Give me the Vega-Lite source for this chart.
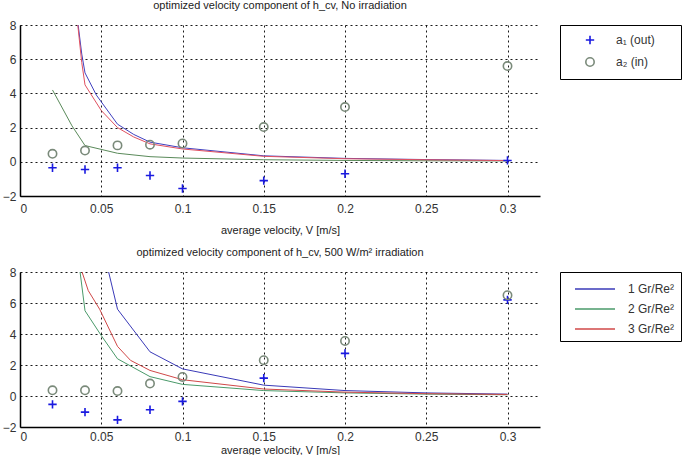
{
  "$schema": "https://vega.github.io/schema/vega-lite/v6.json",
  "background": "white",
  "padding": {"left": 2, "top": 0, "right": 0, "bottom": 0},
  "spacing": 12,
  "config": {
    "font": "Liberation Sans",
    "view": {"stroke": null},
    "title": {"fontSize": 11, "fontWeight": "normal", "color": "#222", "offset": 8},
    "axis": {
      "grid": true, "gridColor": "#000", "gridDash": [2, 3], "gridOpacity": 0.9, "gridWidth": 1,
      "ticks": false, "domainColor": "#000", "domainWidth": 1.5, "labelOverlap": false,
      "labelFontSize": 12, "labelColor": "#333", "labelPadding": 4,
      "titleFontSize": 11, "titleFontWeight": "normal", "titleColor": "#222", "titlePadding": 10
    },
    "axisX": {"labelPadding": 7},
    "legend": {
      "orient": "right", "offset": 20, "strokeColor": "#000", "padding": 8,
      "labelFontSize": 12, "labelColor": "#333", "rowPadding": 6, "title": null
    }
  },
  "datasets": {
    "top_pts": [
      {"V": 0.02, "y": -0.35, "coef": "a₁      (out)"},
      {"V": 0.04, "y": -0.45, "coef": "a₁      (out)"},
      {"V": 0.06, "y": -0.35, "coef": "a₁      (out)"},
      {"V": 0.08, "y": -0.8, "coef": "a₁      (out)"},
      {"V": 0.1, "y": -1.56, "coef": "a₁      (out)"},
      {"V": 0.15, "y": -1.1, "coef": "a₁      (out)"},
      {"V": 0.2, "y": -0.7, "coef": "a₁      (out)"},
      {"V": 0.3, "y": 0.08, "coef": "a₁      (out)"},
      {"V": 0.02, "y": 0.47, "coef": "a₂      (in)"},
      {"V": 0.04, "y": 0.66, "coef": "a₂      (in)"},
      {"V": 0.06, "y": 0.96, "coef": "a₂      (in)"},
      {"V": 0.08, "y": 1.0, "coef": "a₂      (in)"},
      {"V": 0.1, "y": 1.07, "coef": "a₂      (in)"},
      {"V": 0.15, "y": 2.03, "coef": "a₂      (in)"},
      {"V": 0.2, "y": 3.2, "coef": "a₂      (in)"},
      {"V": 0.3, "y": 5.6, "coef": "a₂      (in)"}
    ],
    "top_lines": [
      {"V": 0.02, "y": 25, "series": "1 Gr/Re²"},
      {"V": 0.03, "y": 12, "series": "1 Gr/Re²"},
      {"V": 0.035, "y": 8.6, "series": "1 Gr/Re²"},
      {"V": 0.038, "y": 6.3, "series": "1 Gr/Re²"},
      {"V": 0.04, "y": 5.2, "series": "1 Gr/Re²"},
      {"V": 0.047, "y": 3.9, "series": "1 Gr/Re²"},
      {"V": 0.06, "y": 2.2, "series": "1 Gr/Re²"},
      {"V": 0.07, "y": 1.6, "series": "1 Gr/Re²"},
      {"V": 0.08, "y": 1.15, "series": "1 Gr/Re²"},
      {"V": 0.1, "y": 0.82, "series": "1 Gr/Re²"},
      {"V": 0.15, "y": 0.35, "series": "1 Gr/Re²"},
      {"V": 0.2, "y": 0.2, "series": "1 Gr/Re²"},
      {"V": 0.25, "y": 0.13, "series": "1 Gr/Re²"},
      {"V": 0.3, "y": 0.08, "series": "1 Gr/Re²"},
      {"V": 0.02, "y": 4.2, "series": "2 Gr/Re²"},
      {"V": 0.032, "y": 2.1, "series": "2 Gr/Re²"},
      {"V": 0.04, "y": 0.95, "series": "2 Gr/Re²"},
      {"V": 0.06, "y": 0.5, "series": "2 Gr/Re²"},
      {"V": 0.08, "y": 0.3, "series": "2 Gr/Re²"},
      {"V": 0.1, "y": 0.22, "series": "2 Gr/Re²"},
      {"V": 0.15, "y": 0.12, "series": "2 Gr/Re²"},
      {"V": 0.2, "y": 0.08, "series": "2 Gr/Re²"},
      {"V": 0.25, "y": 0.06, "series": "2 Gr/Re²"},
      {"V": 0.3, "y": 0.05, "series": "2 Gr/Re²"},
      {"V": 0.02, "y": 25, "series": "3 Gr/Re²"},
      {"V": 0.03, "y": 12, "series": "3 Gr/Re²"},
      {"V": 0.035, "y": 8.5, "series": "3 Gr/Re²"},
      {"V": 0.038, "y": 5.8, "series": "3 Gr/Re²"},
      {"V": 0.04, "y": 4.5, "series": "3 Gr/Re²"},
      {"V": 0.05, "y": 3.0, "series": "3 Gr/Re²"},
      {"V": 0.06, "y": 2.0, "series": "3 Gr/Re²"},
      {"V": 0.07, "y": 1.45, "series": "3 Gr/Re²"},
      {"V": 0.08, "y": 1.05, "series": "3 Gr/Re²"},
      {"V": 0.1, "y": 0.75, "series": "3 Gr/Re²"},
      {"V": 0.15, "y": 0.32, "series": "3 Gr/Re²"},
      {"V": 0.2, "y": 0.18, "series": "3 Gr/Re²"},
      {"V": 0.25, "y": 0.12, "series": "3 Gr/Re²"},
      {"V": 0.3, "y": 0.07, "series": "3 Gr/Re²"}
    ],
    "bot_pts": [
      {"V": 0.02, "y": -0.54, "coef": "a₁      (out)"},
      {"V": 0.04, "y": -1.04, "coef": "a₁      (out)"},
      {"V": 0.06, "y": -1.54, "coef": "a₁      (out)"},
      {"V": 0.08, "y": -0.89, "coef": "a₁      (out)"},
      {"V": 0.1, "y": -0.35, "coef": "a₁      (out)"},
      {"V": 0.15, "y": 1.15, "coef": "a₁      (out)"},
      {"V": 0.2, "y": 2.75, "coef": "a₁      (out)"},
      {"V": 0.3, "y": 6.2, "coef": "a₁      (out)"},
      {"V": 0.02, "y": 0.37, "coef": "a₂      (in)"},
      {"V": 0.04, "y": 0.37, "coef": "a₂      (in)"},
      {"V": 0.06, "y": 0.32, "coef": "a₂      (in)"},
      {"V": 0.08, "y": 0.8, "coef": "a₂      (in)"},
      {"V": 0.1, "y": 1.23, "coef": "a₂      (in)"},
      {"V": 0.15, "y": 2.31, "coef": "a₂      (in)"},
      {"V": 0.2, "y": 3.55, "coef": "a₂      (in)"},
      {"V": 0.3, "y": 6.5, "coef": "a₂      (in)"}
    ],
    "bot_lines": [
      {"V": 0.02, "y": 60, "series": "1 Gr/Re²"},
      {"V": 0.05, "y": 10, "series": "1 Gr/Re²"},
      {"V": 0.06, "y": 5.6, "series": "1 Gr/Re²"},
      {"V": 0.08, "y": 2.85, "series": "1 Gr/Re²"},
      {"V": 0.1, "y": 1.75, "series": "1 Gr/Re²"},
      {"V": 0.15, "y": 0.7, "series": "1 Gr/Re²"},
      {"V": 0.2, "y": 0.35, "series": "1 Gr/Re²"},
      {"V": 0.25, "y": 0.2, "series": "1 Gr/Re²"},
      {"V": 0.3, "y": 0.12, "series": "1 Gr/Re²"},
      {"V": 0.02, "y": 22, "series": "2 Gr/Re²"},
      {"V": 0.04, "y": 5.5, "series": "2 Gr/Re²"},
      {"V": 0.05, "y": 3.9, "series": "2 Gr/Re²"},
      {"V": 0.06, "y": 2.4, "series": "2 Gr/Re²"},
      {"V": 0.08, "y": 1.25, "series": "2 Gr/Re²"},
      {"V": 0.1, "y": 0.75, "series": "2 Gr/Re²"},
      {"V": 0.15, "y": 0.35, "series": "2 Gr/Re²"},
      {"V": 0.2, "y": 0.2, "series": "2 Gr/Re²"},
      {"V": 0.25, "y": 0.12, "series": "2 Gr/Re²"},
      {"V": 0.3, "y": 0.08, "series": "2 Gr/Re²"},
      {"V": 0.02, "y": 30, "series": "3 Gr/Re²"},
      {"V": 0.035, "y": 9, "series": "3 Gr/Re²"},
      {"V": 0.042, "y": 6.8, "series": "3 Gr/Re²"},
      {"V": 0.049, "y": 5.6, "series": "3 Gr/Re²"},
      {"V": 0.06, "y": 3.2, "series": "3 Gr/Re²"},
      {"V": 0.068, "y": 2.3, "series": "3 Gr/Re²"},
      {"V": 0.08, "y": 1.65, "series": "3 Gr/Re²"},
      {"V": 0.1, "y": 1.05, "series": "3 Gr/Re²"},
      {"V": 0.15, "y": 0.45, "series": "3 Gr/Re²"},
      {"V": 0.2, "y": 0.25, "series": "3 Gr/Re²"},
      {"V": 0.25, "y": 0.15, "series": "3 Gr/Re²"},
      {"V": 0.3, "y": 0.1, "series": "3 Gr/Re²"}
    ]
  },
  "vconcat": [
    {
      "title": "optimized velocity component of h_cv, No irradiation",
      "width": 520,
      "height": 171,
      "encoding": {
        "x": {"field": "V", "type": "quantitative", "scale": {"domain": [0, 0.32], "nice": false},
              "axis": {"values": [0, 0.05, 0.1, 0.15, 0.2, 0.25, 0.3], "format": ".2~f"},
              "title": "average velocity, V [m/s]"},
        "y": {"field": "y", "type": "quantitative", "scale": {"domain": [-2, 8], "nice": false},
              "axis": {"values": [-2, 0, 2, 4, 6, 8], "tickCount": 6}, "title": null}
      },
      "layer": [
        {
          "data": {"name": "top_lines"},
          "mark": {"type": "line", "clip": true, "strokeWidth": 1},
          "encoding": {
            "stroke": {"field": "series", "type": "nominal",
                       "scale": {"domain": ["1 Gr/Re²", "2 Gr/Re²", "3 Gr/Re²"], "range": ["#4040c0", "#5a8a5a", "#e05060"]},
                       "legend": null},
            "order": {"field": "V", "type": "quantitative"}
          }
        },
        {
          "data": {"name": "top_pts"},
          "mark": {"type": "point", "filled": false, "strokeWidth": 1.6, "size": 70, "opacity": 1},
          "encoding": {
            "color": {"field": "coef", "type": "nominal",
                      "scale": {"domain": ["a₁      (out)", "a₂      (in)"], "range": ["#1a1ae0", "#7a8a7a"]},
                      "legend": {"symbolStrokeWidth": 1.6, "symbolSize": 70, "symbolOffset": 15, "labelOffset": 20, "padding": 9}},
            "shape": {"field": "coef", "type": "nominal",
                      "scale": {"domain": ["a₁      (out)", "a₂      (in)"], "range": ["M-1,0H1M0,-1V1", "circle"]}}
          }
        }
      ]
    },
    {
      "title": "optimized velocity component of h_cv, 500 W/m² irradiation",
      "width": 520,
      "height": 155,
      "encoding": {
        "x": {"field": "V", "type": "quantitative", "scale": {"domain": [0, 0.32], "nice": false},
              "axis": {"values": [0, 0.05, 0.1, 0.15, 0.2, 0.25, 0.3], "format": ".2~f", "labelPadding": 4, "titlePadding": 2},
              "title": "average velocity, V [m/s]"},
        "y": {"field": "y", "type": "quantitative", "scale": {"domain": [-2, 8], "nice": false},
              "axis": {"values": [-2, 0, 2, 4, 6, 8], "tickCount": 6}, "title": null}
      },
      "layer": [
        {
          "data": {"name": "bot_lines"},
          "mark": {"type": "line", "clip": true, "strokeWidth": 1},
          "encoding": {
            "stroke": {"field": "series", "type": "nominal",
                       "scale": {"domain": ["1 Gr/Re²", "2 Gr/Re²", "3 Gr/Re²"], "range": ["#3a3ab8", "#4a9a6a", "#d04848"]},
                       "legend": {"symbolType": "M-2,0H2", "symbolSize": 400, "symbolStrokeWidth": 1.5, "rowPadding": 3, "symbolOffset": 18, "labelOffset": 22, "padding": 6}},
            "order": {"field": "V", "type": "quantitative"}
          }
        },
        {
          "data": {"name": "bot_pts"},
          "mark": {"type": "point", "filled": false, "strokeWidth": 1.6, "size": 70, "opacity": 1},
          "encoding": {
            "color": {"field": "coef", "type": "nominal",
                      "scale": {"domain": ["a₁      (out)", "a₂      (in)"], "range": ["#1a1ae0", "#7a8a7a"]},
                      "legend": null},
            "shape": {"field": "coef", "type": "nominal",
                      "scale": {"domain": ["a₁      (out)", "a₂      (in)"], "range": ["M-1,0H1M0,-1V1", "circle"]},
                      "legend": null}
          }
        }
      ]
    }
  ],
  "resolve": {"scale": {"color": "independent", "shape": "independent", "stroke": "independent", "x": "independent", "y": "independent"}}
}
